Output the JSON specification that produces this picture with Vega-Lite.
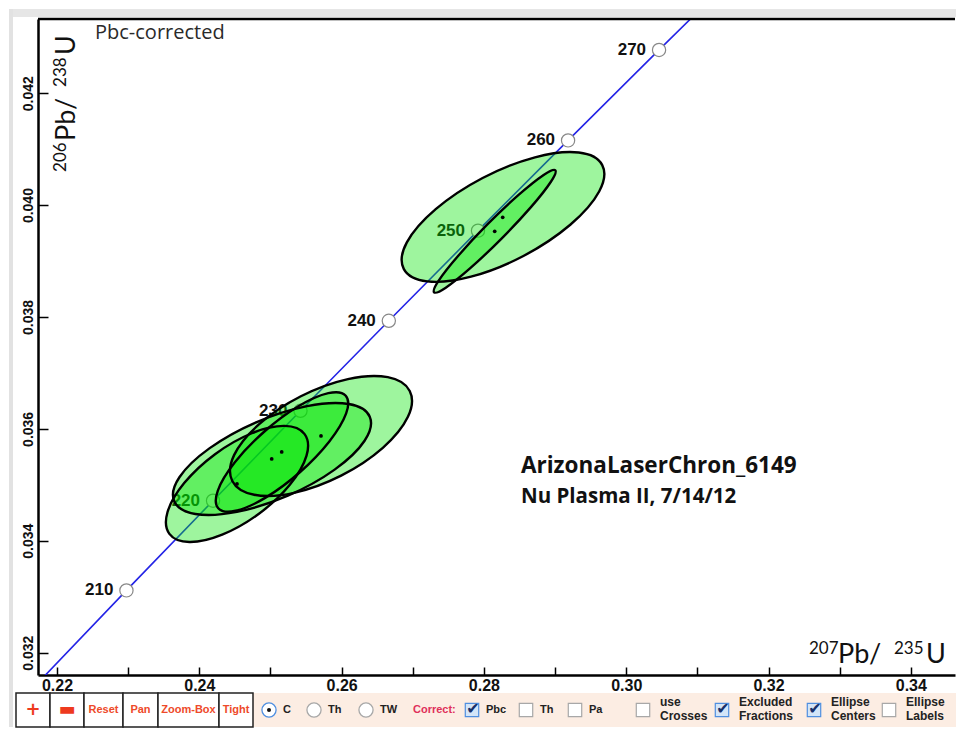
{
  "$schema": "https://vega.github.io/schema/vega-lite/v6.json",
  "width": 917,
  "height": 656,
  "autosize": {"type": "none"},
  "padding": {"left": 38, "top": 19, "right": 1, "bottom": 54},
  "background": "white",
  "config": {"view": {"stroke": null}},
  "datasets": {
    "concordia": [
      {"age": 200, "x": 0.217708, "y": 0.031511},
      {"age": 210, "x": 0.229760, "y": 0.033113},
      {"age": 220, "x": 0.241931, "y": 0.034716},
      {"age": 230, "x": 0.254222, "y": 0.036323},
      {"age": 240, "x": 0.266636, "y": 0.037932},
      {"age": 250, "x": 0.279171, "y": 0.039543},
      {"age": 260, "x": 0.291831, "y": 0.041156},
      {"age": 270, "x": 0.304617, "y": 0.042773},
      {"age": 280, "x": 0.317530, "y": 0.044392}
    ],
    "ellipses": [
      {"e": "U1", "i": 0, "x": 0.296633, "y": 0.040715},
      {"e": "U1", "i": 1, "x": 0.293333, "y": 0.040939},
      {"e": "U1", "i": 2, "x": 0.287179, "y": 0.040854},
      {"e": "U1", "i": 3, "x": 0.279818, "y": 0.040484},
      {"e": "U1", "i": 4, "x": 0.273228, "y": 0.039927},
      {"e": "U1", "i": 5, "x": 0.269170, "y": 0.039333},
      {"e": "U1", "i": 6, "x": 0.268735, "y": 0.038860},
      {"e": "U1", "i": 7, "x": 0.272035, "y": 0.038636},
      {"e": "U1", "i": 8, "x": 0.278189, "y": 0.038720},
      {"e": "U1", "i": 9, "x": 0.285550, "y": 0.039090},
      {"e": "U1", "i": 10, "x": 0.292140, "y": 0.039648},
      {"e": "U1", "i": 11, "x": 0.296198, "y": 0.040242},
      {"e": "U2", "i": 0, "x": 0.290035, "y": 0.040623},
      {"e": "U2", "i": 1, "x": 0.288395, "y": 0.040539},
      {"e": "U2", "i": 2, "x": 0.284912, "y": 0.040186},
      {"e": "U2", "i": 3, "x": 0.280520, "y": 0.039658},
      {"e": "U2", "i": 4, "x": 0.276395, "y": 0.039095},
      {"e": "U2", "i": 5, "x": 0.273643, "y": 0.038650},
      {"e": "U2", "i": 6, "x": 0.273001, "y": 0.038441},
      {"e": "U2", "i": 7, "x": 0.274641, "y": 0.038524},
      {"e": "U2", "i": 8, "x": 0.278124, "y": 0.038877},
      {"e": "U2", "i": 9, "x": 0.282516, "y": 0.039406},
      {"e": "U2", "i": 10, "x": 0.286641, "y": 0.039968},
      {"e": "U2", "i": 11, "x": 0.289393, "y": 0.040413},
      {"e": "A", "i": 0, "x": 0.269576, "y": 0.036678},
      {"e": "A", "i": 1, "x": 0.266491, "y": 0.036924},
      {"e": "A", "i": 2, "x": 0.260890, "y": 0.036890},
      {"e": "A", "i": 3, "x": 0.254276, "y": 0.036583},
      {"e": "A", "i": 4, "x": 0.248418, "y": 0.036085},
      {"e": "A", "i": 5, "x": 0.244889, "y": 0.035531},
      {"e": "A", "i": 6, "x": 0.244634, "y": 0.035069},
      {"e": "A", "i": 7, "x": 0.247719, "y": 0.034822},
      {"e": "A", "i": 8, "x": 0.253320, "y": 0.034857},
      {"e": "A", "i": 9, "x": 0.259934, "y": 0.035164},
      {"e": "A", "i": 10, "x": 0.265792, "y": 0.035661},
      {"e": "A", "i": 11, "x": 0.269321, "y": 0.036215},
      {"e": "B", "i": 0, "x": 0.263957, "y": 0.036218},
      {"e": "B", "i": 1, "x": 0.260999, "y": 0.036445},
      {"e": "B", "i": 2, "x": 0.255153, "y": 0.036408},
      {"e": "B", "i": 3, "x": 0.247986, "y": 0.036118},
      {"e": "B", "i": 4, "x": 0.241415, "y": 0.035652},
      {"e": "B", "i": 5, "x": 0.237205, "y": 0.035136},
      {"e": "B", "i": 6, "x": 0.236479, "y": 0.034706},
      {"e": "B", "i": 7, "x": 0.239437, "y": 0.034479},
      {"e": "B", "i": 8, "x": 0.245283, "y": 0.034516},
      {"e": "B", "i": 9, "x": 0.252450, "y": 0.034806},
      {"e": "B", "i": 10, "x": 0.259021, "y": 0.035272},
      {"e": "B", "i": 11, "x": 0.263231, "y": 0.035788},
      {"e": "C", "i": 0, "x": 0.260584, "y": 0.036592},
      {"e": "C", "i": 1, "x": 0.258129, "y": 0.036638},
      {"e": "C", "i": 2, "x": 0.253931, "y": 0.036403},
      {"e": "C", "i": 3, "x": 0.249113, "y": 0.035949},
      {"e": "C", "i": 4, "x": 0.244969, "y": 0.035398},
      {"e": "C", "i": 5, "x": 0.242607, "y": 0.034898},
      {"e": "C", "i": 6, "x": 0.242662, "y": 0.034582},
      {"e": "C", "i": 7, "x": 0.245117, "y": 0.034536},
      {"e": "C", "i": 8, "x": 0.249315, "y": 0.034771},
      {"e": "C", "i": 9, "x": 0.254133, "y": 0.035225},
      {"e": "C", "i": 10, "x": 0.258277, "y": 0.035776},
      {"e": "C", "i": 11, "x": 0.260639, "y": 0.036276},
      {"e": "E", "i": 0, "x": 0.254801, "y": 0.035906},
      {"e": "E", "i": 1, "x": 0.251985, "y": 0.036053},
      {"e": "E", "i": 2, "x": 0.247379, "y": 0.035922},
      {"e": "E", "i": 3, "x": 0.242213, "y": 0.035548},
      {"e": "E", "i": 4, "x": 0.237875, "y": 0.035031},
      {"e": "E", "i": 5, "x": 0.235527, "y": 0.034510},
      {"e": "E", "i": 6, "x": 0.235797, "y": 0.034124},
      {"e": "E", "i": 7, "x": 0.238613, "y": 0.033978},
      {"e": "E", "i": 8, "x": 0.243219, "y": 0.034109},
      {"e": "E", "i": 9, "x": 0.248385, "y": 0.034483},
      {"e": "E", "i": 10, "x": 0.252723, "y": 0.035000},
      {"e": "E", "i": 11, "x": 0.255071, "y": 0.035521}
    ],
    "centers": [
      {"e": "B", "x": 0.250176, "y": 0.035462},
      {"e": "C", "x": 0.251581, "y": 0.035587},
      {"e": "A", "x": 0.257105, "y": 0.035873},
      {"e": "E", "x": 0.245299, "y": 0.035015},
      {"e": "U1", "x": 0.282642, "y": 0.039782},
      {"e": "U2", "x": 0.281518, "y": 0.039532}
    ],
    "buttons": [
      {"label": "+", "s": 0, "n": 1, "m": 0.5, "kind": "glyph"},
      {"label": "▬", "s": 1, "n": 2, "m": 1.5, "kind": "glyph"},
      {"label": "Reset", "s": 2, "n": 3, "m": 2.5, "kind": "word"},
      {"label": "Pan", "s": 3, "n": 4, "m": 3.5, "kind": "word"},
      {"label": "Zoom-Box", "s": 4, "n": 5, "m": 4.5, "kind": "word"},
      {"label": "Tight", "s": 5, "n": 6, "m": 5.5, "kind": "word"}
    ],
    "controls": [
      {"label": "C", "s": 7, "kind": "radio", "on": true, "lines": 1},
      {"label": "Th", "s": 8, "kind": "radio", "on": false, "lines": 1},
      {"label": "TW", "s": 9, "kind": "radio", "on": false, "lines": 1},
      {"label": "Pbc", "s": 11, "kind": "check", "on": true, "lines": 1},
      {"label": "Th", "s": 12, "kind": "check", "on": false, "lines": 1},
      {"label": "Pa", "s": 13, "kind": "check", "on": false, "lines": 1},
      {"label": "use\nCrosses", "s": 14, "kind": "check", "on": false, "lines": 2},
      {"label": "Excluded\nFractions", "s": 15, "kind": "check", "on": true, "lines": 2},
      {"label": "Ellipse\nCenters", "s": 16, "kind": "check", "on": true, "lines": 2},
      {"label": "Ellipse\nLabels", "s": 17, "kind": "check", "on": false, "lines": 2}
    ]
  },
  "layer": [
    {
      "layer": [
        {
          "data": {"name": "concordia"},
          "mark": {"type": "line", "color": "#2424e6", "strokeWidth": 1.6, "clip": true},
          "encoding": {
            "x": {
              "field": "x", "type": "quantitative",
              "scale": {"domain": [0.21733, 0.346212], "nice": false, "zero": false},
              "axis": {
                "values": [0.22, 0.23, 0.24, 0.25, 0.26, 0.27, 0.28, 0.29, 0.30, 0.31, 0.32, 0.33, 0.34],
                "labelExpr": "round(datum.value * 100) % 2 == 0 ? format(datum.value, '.2f') : ''",
                "title": null, "grid": false,
                "domainColor": "black", "domainWidth": 2.5,
                "tickColor": "black", "tickWidth": 1.5, "tickSize": -8,
                "labelFont": "Liberation Sans", "labelFontWeight": "bold", "labelFontSize": 16,
                "labelColor": "#111", "labelPadding": 10, "labelFlush": false, "labelOverlap": false
              }
            },
            "y": {
              "field": "y", "type": "quantitative",
              "scale": {"domain": [0.031601, 0.043326], "nice": false, "zero": false},
              "axis": {
                "values": [0.032, 0.034, 0.036, 0.038, 0.04, 0.042],
                "format": ".3f",
                "title": null, "grid": false,
                "domainColor": "black", "domainWidth": 2.5,
                "tickColor": "black", "tickWidth": 1.5, "tickSize": -10,
                "labelAngle": 270,
                "labelFont": "Liberation Sans", "labelFontWeight": "bold", "labelFontSize": 14,
                "labelColor": "#111", "labelPadding": 13, "labelFlush": false, "labelOverlap": false
              }
            },
            "order": {"field": "age"}
          }
        },
        {
          "data": {"name": "concordia"},
          "transform": [{"filter": "datum.age >= 210 && datum.age <= 270"}],
          "mark": {"type": "point", "shape": "circle", "filled": true, "fill": "white", "stroke": "#888", "strokeWidth": 1.2, "size": 175, "opacity": 1},
          "encoding": {
            "x": {"field": "x", "type": "quantitative"},
            "y": {"field": "y", "type": "quantitative"}
          }
        },
        {
          "data": {"name": "concordia"},
          "transform": [{"filter": "datum.age >= 210 && datum.age <= 270"}],
          "mark": {"type": "text", "align": "right", "baseline": "middle", "dx": -13, "font": "Liberation Sans", "fontWeight": "bold", "fontSize": 17, "color": "#111"},
          "encoding": {
            "x": {"field": "x", "type": "quantitative"},
            "y": {"field": "y", "type": "quantitative"},
            "text": {"field": "age", "type": "quantitative", "format": "d"}
          }
        },
        {
          "data": {"name": "ellipses"},
          "mark": {"type": "line", "interpolate": "cardinal-closed", "fill": "#00e600", "fillOpacity": 0.38, "strokeWidth": 0},
          "encoding": {
            "x": {"field": "x", "type": "quantitative"},
            "y": {"field": "y", "type": "quantitative"},
            "detail": {"field": "e"},
            "order": {"field": "i"}
          }
        },
        {
          "data": {"name": "ellipses"},
          "mark": {"type": "line", "interpolate": "cardinal-closed", "color": "black", "strokeWidth": 2.4},
          "encoding": {
            "x": {"field": "x", "type": "quantitative"},
            "y": {"field": "y", "type": "quantitative"},
            "detail": {"field": "e"},
            "order": {"field": "i"}
          }
        },
        {
          "data": {"name": "centers"},
          "mark": {"type": "point", "shape": "circle", "filled": true, "color": "black", "size": 14, "opacity": 1},
          "encoding": {
            "x": {"field": "x", "type": "quantitative"},
            "y": {"field": "y", "type": "quantitative"}
          }
        },
        {
          "data": {"values": [{"t": "Pbc-corrected"}]},
          "mark": {"type": "text", "align": "left", "baseline": "middle", "font": "Open Sans", "fontSize": 20, "color": "#2a2a2a"},
          "encoding": {
            "x": {"datum": 0.225341, "type": "quantitative"},
            "y": {"datum": 0.043076, "type": "quantitative"},
            "text": {"field": "t"}
          }
        },
        {
          "data": {"values": [{"t": "ArizonaLaserChron_6149"}]},
          "mark": {"type": "text", "align": "left", "baseline": "middle", "font": "Open Sans", "fontWeight": "bold", "fontSize": 22.5, "color": "#111"},
          "encoding": {
            "x": {"datum": 0.285214, "type": "quantitative"},
            "y": {"datum": 0.035337, "type": "quantitative"},
            "text": {"field": "t"}
          }
        },
        {
          "data": {"values": [{"t": "Nu Plasma II, 7/14/12"}]},
          "mark": {"type": "text", "align": "left", "baseline": "middle", "font": "Open Sans", "fontWeight": "bold", "fontSize": 20.5, "color": "#111"},
          "encoding": {
            "x": {"datum": 0.285214, "type": "quantitative"},
            "y": {"datum": 0.034783, "type": "quantitative"},
            "text": {"field": "t"}
          }
        },
        {
          "data": {"values": [{"t": "207"}]},
          "mark": {"type": "text", "align": "left", "baseline": "alphabetic", "dy": -9, "font": "Lato", "fontSize": 17, "color": "#111"},
          "encoding": {
            "x": {"datum": 0.325692, "type": "quantitative"},
            "y": {"datum": 0.031816, "type": "quantitative"},
            "text": {"field": "t"}
          }
        },
        {
          "data": {"values": [{"t": "235"}]},
          "mark": {"type": "text", "align": "left", "baseline": "alphabetic", "dx": 85, "dy": -9, "font": "Lato", "fontSize": 17, "color": "#111"},
          "encoding": {
            "x": {"datum": 0.325692, "type": "quantitative"},
            "y": {"datum": 0.031816, "type": "quantitative"},
            "text": {"field": "t"}
          }
        },
        {
          "data": {"values": [{"t": "Pb/"}]},
          "mark": {"type": "text", "align": "left", "baseline": "alphabetic", "dx": 29, "font": "Lato", "fontSize": 27, "color": "#111"},
          "encoding": {
            "x": {"datum": 0.325692, "type": "quantitative"},
            "y": {"datum": 0.031816, "type": "quantitative"},
            "text": {"field": "t"}
          }
        },
        {
          "data": {"values": [{"t": "U"}]},
          "mark": {"type": "text", "align": "left", "baseline": "alphabetic", "dx": 117, "font": "Lato", "fontSize": 27, "color": "#111"},
          "encoding": {
            "x": {"datum": 0.325692, "type": "quantitative"},
            "y": {"datum": 0.031816, "type": "quantitative"},
            "text": {"field": "t"}
          }
        },
        {
          "data": {"values": [{"t": "206"}]},
          "mark": {"type": "text", "align": "left", "baseline": "alphabetic", "angle": 270, "dy": -9, "font": "Lato", "fontSize": 17, "color": "#111"},
          "encoding": {
            "x": {"datum": 0.22253, "type": "quantitative"},
            "y": {"datum": 0.040592, "type": "quantitative"},
            "text": {"field": "t"}
          }
        },
        {
          "data": {"values": [{"t": "238"}]},
          "mark": {"type": "text", "align": "left", "baseline": "alphabetic", "angle": 270, "dx": 85, "dy": -9, "font": "Lato", "fontSize": 17, "color": "#111"},
          "encoding": {
            "x": {"datum": 0.22253, "type": "quantitative"},
            "y": {"datum": 0.040592, "type": "quantitative"},
            "text": {"field": "t"}
          }
        },
        {
          "data": {"values": [{"t": "Pb/"}]},
          "mark": {"type": "text", "align": "left", "baseline": "alphabetic", "angle": 270, "dx": 31, "font": "Lato", "fontSize": 27, "color": "#111"},
          "encoding": {
            "x": {"datum": 0.22253, "type": "quantitative"},
            "y": {"datum": 0.040592, "type": "quantitative"},
            "text": {"field": "t"}
          }
        },
        {
          "data": {"values": [{"t": "U"}]},
          "mark": {"type": "text", "align": "left", "baseline": "alphabetic", "angle": 270, "dx": 117, "font": "Lato", "fontSize": 27, "color": "#111"},
          "encoding": {
            "x": {"datum": 0.22253, "type": "quantitative"},
            "y": {"datum": 0.040592, "type": "quantitative"},
            "text": {"field": "t"}
          }
        },
        {
          "data": {"values": [{}]},
          "mark": {"type": "rule", "color": "black", "strokeWidth": 2.5},
          "encoding": {
            "y": {"datum": 0.043326, "type": "quantitative"}
          }
        }
      ]
    },
    {
      "layer": [
        {
          "data": {"values": [{}]},
          "mark": {"type": "rect", "fill": "#e6e6e6"},
          "encoding": {
            "x": {
              "datum": -2, "type": "quantitative",
              "scale": {
                "domain": [-2, -1, 0, 1, 2, 3, 4, 5, 6, 7, 8, 9, 10, 11, 12, 13, 14, 15, 16, 17, 18],
                "range": [-29, -25, -22, 12, 46, 85, 120, 181, 215, 231, 276, 328, 375, 434, 488, 537, 605, 684, 776, 851, 918],
                "nice": false, "zero": false
              },
              "axis": null
            },
            "x2": {"datum": 18},
            "y": {
              "datum": -2, "type": "quantitative",
              "scale": {"domain": [-2, -1, 0, 1, 2, 3, 4], "range": [-10, -2, 674, 682, 691, 696, 708], "nice": false, "zero": false},
              "axis": null
            },
            "y2": {"datum": -1}
          }
        },
        {
          "data": {"values": [{}]},
          "mark": {"type": "rect", "fill": "#e2e2e2"},
          "encoding": {
            "x": {"datum": -2, "type": "quantitative"},
            "x2": {"datum": -1},
            "y": {"datum": -2, "type": "quantitative"},
            "y2": {"datum": 4}
          }
        },
        {
          "data": {"values": [{}]},
          "mark": {"type": "rect", "fill": "#fcede3"},
          "encoding": {
            "x": {"datum": 6, "type": "quantitative"},
            "x2": {"datum": 18},
            "y": {"datum": 0, "type": "quantitative"},
            "y2": {"datum": 4}
          }
        },
        {
          "data": {"name": "buttons"},
          "mark": {"type": "rect", "fill": "white", "stroke": "#222", "strokeWidth": 1.5},
          "encoding": {
            "x": {"field": "s", "type": "quantitative"},
            "x2": {"field": "n"},
            "y": {"datum": 0, "type": "quantitative"},
            "y2": {"datum": 4}
          }
        },
        {
          "data": {"name": "buttons"},
          "transform": [{"filter": "datum.kind == 'word'"}],
          "mark": {"type": "text", "align": "center", "baseline": "middle", "font": "Liberation Sans", "fontWeight": "bold", "fontSize": 11, "color": "#ee4a2a"},
          "encoding": {
            "x": {"field": "m", "type": "quantitative"},
            "y": {"datum": 2, "type": "quantitative"},
            "text": {"field": "label"}
          }
        },
        {
          "data": {"name": "buttons"},
          "transform": [{"filter": "datum.kind == 'glyph'"}],
          "mark": {"type": "text", "align": "center", "baseline": "middle", "font": "DejaVu Sans", "fontWeight": "bold", "fontSize": 18, "color": "#ee3a1e"},
          "encoding": {
            "x": {"field": "m", "type": "quantitative"},
            "y": {"datum": 2, "type": "quantitative"},
            "text": {"field": "label"}
          }
        },
        {
          "data": {"name": "controls"},
          "transform": [{"filter": "datum.kind == 'radio'"}],
          "mark": {"type": "point", "shape": "circle", "filled": true, "fill": "white", "size": 200, "strokeWidth": 1.3, "opacity": 1},
          "encoding": {
            "x": {"field": "s", "type": "quantitative"},
            "y": {"datum": 2, "type": "quantitative"},
            "stroke": {"field": "on", "type": "nominal", "scale": {"domain": [true, false], "range": ["#4f8fe0", "#a8a8a8"]}, "legend": null}
          }
        },
        {
          "data": {"name": "controls"},
          "transform": [{"filter": "datum.kind == 'radio' && datum.on"}],
          "mark": {"type": "point", "shape": "circle", "filled": true, "color": "#111", "size": 16, "opacity": 1},
          "encoding": {
            "x": {"field": "s", "type": "quantitative"},
            "y": {"datum": 2, "type": "quantitative"}
          }
        },
        {
          "data": {"name": "controls"},
          "transform": [{"filter": "datum.kind == 'check'"}],
          "mark": {"type": "point", "shape": "square", "filled": true, "size": 180, "strokeWidth": 1.2, "opacity": 1},
          "encoding": {
            "x": {"field": "s", "type": "quantitative"},
            "y": {"datum": 2, "type": "quantitative"},
            "fill": {"field": "on", "type": "nominal", "scale": {"domain": [true, false], "range": ["#d3e5f8", "#ffffff"]}, "legend": null},
            "stroke": {"field": "on", "type": "nominal", "scale": {"domain": [true, false], "range": ["#5b8fd6", "#aaaaaa"]}, "legend": null}
          }
        },
        {
          "data": {"name": "controls"},
          "transform": [{"filter": "datum.kind == 'check' && datum.on"}],
          "mark": {"type": "text", "align": "center", "baseline": "middle", "dx": 1, "dy": -1, "font": "DejaVu Sans", "fontSize": 16, "color": "#17306a", "text": "✔"},
          "encoding": {
            "x": {"field": "s", "type": "quantitative"},
            "y": {"datum": 2, "type": "quantitative"}
          }
        },
        {
          "data": {"name": "controls"},
          "transform": [{"filter": "datum.lines == 1"}],
          "mark": {"type": "text", "align": "left", "baseline": "middle", "dx": 14, "font": "Liberation Sans", "fontWeight": "bold", "fontSize": 11, "color": "#222"},
          "encoding": {
            "x": {"field": "s", "type": "quantitative"},
            "y": {"datum": 2, "type": "quantitative"},
            "text": {"field": "label"}
          }
        },
        {
          "data": {"name": "controls"},
          "transform": [{"filter": "datum.lines == 2"}],
          "mark": {"type": "text", "align": "left", "baseline": "middle", "dx": 17, "dy": -8, "lineBreak": "\n", "lineHeight": 14, "font": "Liberation Sans", "fontWeight": "bold", "fontSize": 12, "color": "#222"},
          "encoding": {
            "x": {"field": "s", "type": "quantitative"},
            "y": {"datum": 2, "type": "quantitative"},
            "text": {"field": "label"}
          }
        },
        {
          "data": {"values": [{"t": "Correct:"}]},
          "mark": {"type": "text", "align": "left", "baseline": "middle", "font": "Liberation Sans", "fontWeight": "bold", "fontSize": 11, "color": "#e0305a"},
          "encoding": {
            "x": {"datum": 10, "type": "quantitative"},
            "y": {"datum": 2, "type": "quantitative"},
            "text": {"field": "t"}
          }
        }
      ]
    }
  ],
  "resolve": {"scale": {"x": "independent", "y": "independent"}}
}
